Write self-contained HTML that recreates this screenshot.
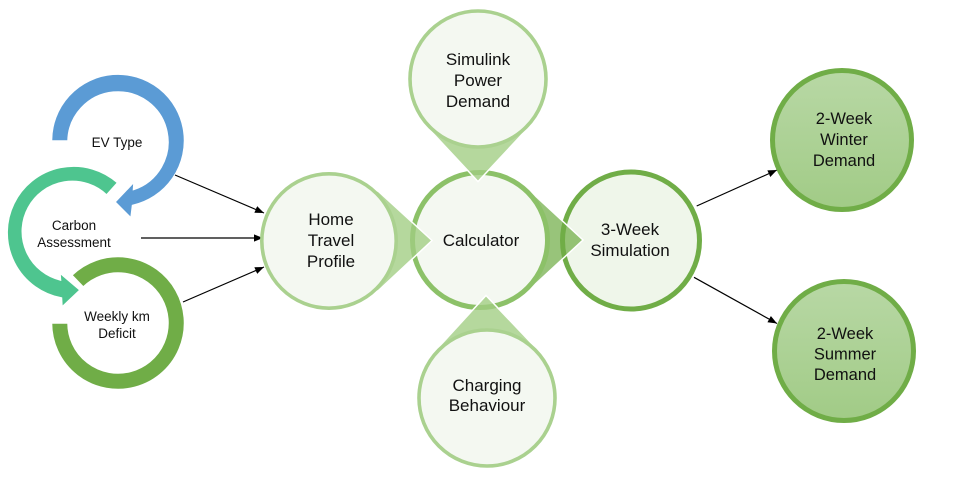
<!DOCTYPE html>
<html>
<head>
<meta charset="utf-8">
<style>
  html, body { margin:0; padding:0; background:#ffffff; }
  body { width:967px; height:481px; overflow:hidden; }
  svg { display:block; }
  text { font-family: "Liberation Sans", Arial, sans-serif; fill:#111; }
</style>
</head>
<body>
<svg width="967" height="481" viewBox="0 0 967 481" xmlns="http://www.w3.org/2000/svg">
  <defs>
    <marker id="ah" viewBox="0 0 10 10" refX="10" refY="5" markerWidth="9" markerHeight="9" markerUnits="userSpaceOnUse" orient="auto">
      <path d="M0,1 L10,5 L0,9 Z" fill="#000"/>
    </marker>
    <linearGradient id="gg" x1="0" y1="0" x2="0" y2="1">
      <stop offset="0" stop-color="#b8d8a5"/>
      <stop offset="1" stop-color="#a1cb86"/>
    </linearGradient>
  </defs>

  <!-- Left circular arrows -->
  <!-- Green ring (Weekly km Deficit) -->
  <path d="M 71.8 275.2 A 66.5 66.5 0 1 1 51.5 323 L 68 323 A 50 50 0 1 0 83.27 287.03 Z"
        fill="#70ad47" stroke="#fff" stroke-width="1.5"/>
  <!-- Teal ring (Carbon Assessment) -->
  <path d="M 117.6 182.7 A 66.5 66.5 0 1 0 61.5 298 L 62 307 L 80 290 L 60 273 L 60.5 280 A 50 50 0 1 1 106.6 195.05 Z"
        fill="#4ec58f" stroke="#fff" stroke-width="1.5"/>
  <!-- Blue ring (EV Type) -->
  <path d="M 51.5 141 A 66.5 66.5 0 1 1 132.5 205.5 L 131 218 L 115 202 L 134 182 L 133.5 189.5 A 50 50 0 1 0 68 141 Z"
        fill="#5b9bd5" stroke="#fff" stroke-width="1.5"/>

  <text x="117" y="147" font-size="13.5" text-anchor="middle">EV Type</text>
  <text x="74" y="230" font-size="13.5" text-anchor="middle">Carbon</text>
  <text x="74" y="247" font-size="13.5" text-anchor="middle">Assessment</text>
  <text x="117" y="321" font-size="13.5" text-anchor="middle">Weekly km</text>
  <text x="117" y="338" font-size="13.5" text-anchor="middle">Deficit</text>

  <!-- Connectors left -->
  <g stroke="#000" stroke-width="1.2" fill="none">
    <line x1="175" y1="175" x2="264" y2="213" marker-end="url(#ah)"/>
    <line x1="141" y1="238" x2="263" y2="238" marker-end="url(#ah)"/>
    <line x1="183" y1="302" x2="264" y2="267" marker-end="url(#ah)"/>
    <line x1="696.7" y1="206" x2="777" y2="170" marker-end="url(#ah)"/>
    <line x1="694" y1="277.3" x2="777" y2="323.5" marker-end="url(#ah)"/>
  </g>

  <!-- 3-Week Simulation circle -->
  <circle cx="631" cy="240.5" r="68.5" fill="#eff6ea" stroke="#70ad47" stroke-width="5"/>

  <!-- Calculator wedge (pointing right) -->
  <polygon points="527.7,188.8 583,240 527.7,291.2" fill="rgba(112,173,71,0.72)" stroke="#fff" stroke-width="1.5"/>
  <!-- Calculator circle -->
  <circle cx="480" cy="240" r="67.5" fill="#f4f8f1" stroke="#8cc168" stroke-width="5"/>

  <!-- Home wedge (pointing right) -->
  <polygon points="376.7,189.8 432,240.5 376.7,292.2" fill="rgba(160,205,130,0.78)" stroke="#fff" stroke-width="1.5"/>
  <circle cx="329" cy="241" r="67.2" fill="#f4f8f1" stroke="#aad18f" stroke-width="3.6"/>

  <!-- Simulink wedge (pointing down) -->
  <polygon points="426.8,126.7 478,181.5 529.2,126.7" fill="rgba(160,205,130,0.78)" stroke="#fff" stroke-width="1.5"/>
  <circle cx="478" cy="79" r="68" fill="#f4f8f1" stroke="#aad18f" stroke-width="3.6"/>

  <!-- Charging wedge (pointing up) -->
  <polygon points="435.8,350.3 486,295.5 538.2,350.3" fill="rgba(160,205,130,0.78)" stroke="#fff" stroke-width="1.5"/>
  <circle cx="487" cy="398" r="68" fill="#f4f8f1" stroke="#aad18f" stroke-width="3.6"/>

  <!-- Center labels -->
  <text x="478" y="65" font-size="17" text-anchor="middle">Simulink</text>
  <text x="478" y="86" font-size="17" text-anchor="middle">Power</text>
  <text x="478" y="107" font-size="17" text-anchor="middle">Demand</text>

  <text x="331" y="225" font-size="17" text-anchor="middle">Home</text>
  <text x="331" y="246" font-size="17" text-anchor="middle">Travel</text>
  <text x="331" y="267" font-size="17" text-anchor="middle">Profile</text>

  <text x="481" y="246" font-size="17" text-anchor="middle">Calculator</text>

  <text x="630" y="235" font-size="17" text-anchor="middle">3-Week</text>
  <text x="630" y="256" font-size="17" text-anchor="middle">Simulation</text>

  <text x="487" y="391" font-size="17" text-anchor="middle">Charging</text>
  <text x="487" y="411" font-size="17" text-anchor="middle">Behaviour</text>

  <!-- Right result circles -->
  <circle cx="842" cy="140" r="69.5" fill="url(#gg)" stroke="#70ad47" stroke-width="5"/>
  <circle cx="844" cy="351" r="69.5" fill="url(#gg)" stroke="#70ad47" stroke-width="5"/>

  <text x="844" y="124" font-size="16.5" text-anchor="middle">2-Week</text>
  <text x="844" y="145" font-size="16.5" text-anchor="middle">Winter</text>
  <text x="844" y="166" font-size="16.5" text-anchor="middle">Demand</text>

  <text x="845" y="339" font-size="16.5" text-anchor="middle">2-Week</text>
  <text x="845" y="359.5" font-size="16.5" text-anchor="middle">Summer</text>
  <text x="845" y="380" font-size="16.5" text-anchor="middle">Demand</text>
</svg>
</body>
</html>
